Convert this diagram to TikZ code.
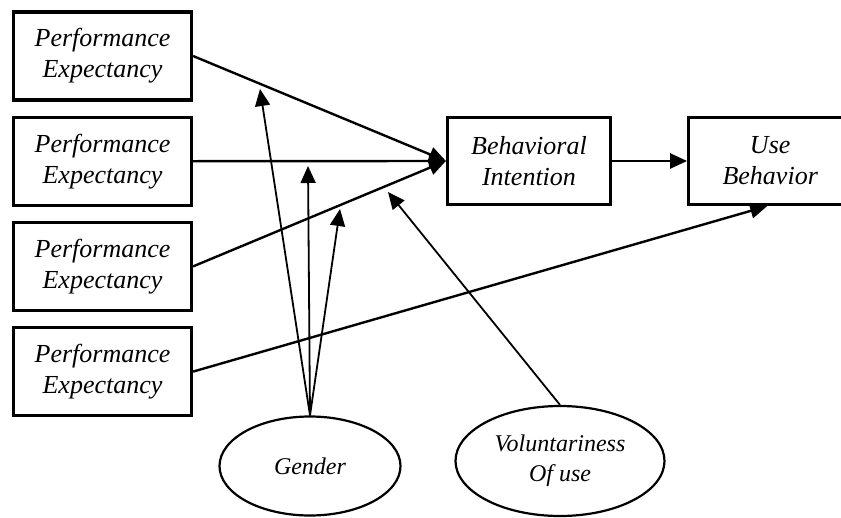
\documentclass[tikz,border=0pt]{standalone}
\usepackage{fontspec}
\setmainfont{Liberation Serif}
\usetikzlibrary{positioning,shapes.geometric,arrows.meta}
\tikzset{
  construct/.style = {draw, line width=3.2pt, align=center, inner sep=0pt,
                      font=\fontsize{26}{31}\selectfont\itshape,
                      minimum width=178pt, minimum height=88pt},
  outcome/.style   = {construct, minimum width=163pt, minimum height=87pt},
  moderator/.style = {draw, ellipse, line width=2.2pt, align=center, inner sep=0pt,
                      font=\fontsize{24}{30}\selectfont\itshape},
  path/.style      = {line width=2.4pt, -{Triangle[length=17pt,width=15pt]}},
  modpath/.style   = {line width=1.8pt, -{Triangle[length=17pt,width=15pt]}}
}
\begin{document}
\begin{tikzpicture}[x=1pt, y=-1pt, node distance=14pt and 75pt]
    \useasboundingbox (0,0) rectangle (841,517);

    % predictors
    \node[construct] (pe1) at (102.5,56) {Performance\\Expectancy};
    \node[construct, below=of pe1] (pe2) {Performance\\Expectancy};
    \node[construct, below=of pe2] (pe3) {Performance\\Expectancy};
    \node[construct, below=of pe3] (pe4) {Performance\\Expectancy};

    \node[outcome] (bi) at (529,161) {Behavioral\\Intention};
    \node[outcome, right=of bi] (ub) {Use\\Behavior};

    % moderators
    \node[moderator, minimum width=181pt, minimum height=99pt] (gender) at (310,466) {Gender};
    \node[moderator, minimum width=209pt, minimum height=110pt] (vol) at (560,461) {Voluntariness\\Of use};

    \coordinate (g1) at (260,89);
    \coordinate (g2) at (308,166);
    \coordinate (g3) at (340,209);
    \coordinate (v1) at (388,192);

    \draw[path] (pe1.east) -- (bi.west);
    \draw[path] (pe2.east) -- (bi.west);
    \draw[path] (pe3.east) -- (bi.west);
    \draw[path] (pe4.east) -- ([xshift=-3pt]ub.south);
    \draw[path] (bi.east) -- (ub.west);

    \draw[modpath] (gender.north) -- (g1);
    \draw[modpath] (gender.north) -- (g2);
    \draw[modpath] (gender.north) -- (g3);
    \draw[modpath] (vol.north) -- (v1);
  \end{tikzpicture}
\end{document}
